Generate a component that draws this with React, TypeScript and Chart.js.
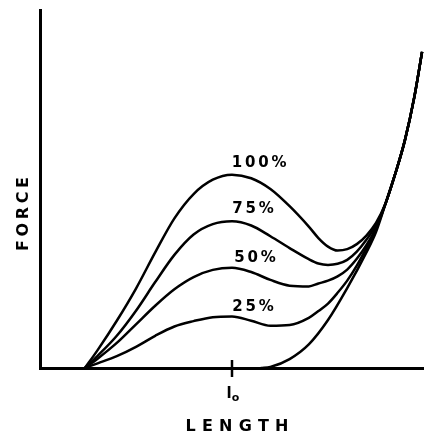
import React, { useEffect, useRef } from "react";
import { Chart, registerables } from "chart.js";

Chart.register(...registerables);

// Length in units of optimal length l0 (l0 = 1), force in % of axis height
const activeLength = [0.234, 0.3, 0.4, 0.5, 0.6, 0.7, 0.8, 0.9, 1.0, 1.1, 1.2, 1.3, 1.4, 1.45, 1.5, 1.55, 1.6, 1.65, 1.7, 1.75];
const force100 = [0, 5.0, 13.2, 22.2, 32.3, 41.8, 48.6, 52.6, 54.0, 53.0, 50.0, 45.2, 39.5, 36.3, 33.9, 32.8, 33.2, 34.6, 37.0, 40.5];
const force75 = [0, 3.4, 9.0, 16.0, 24.0, 31.6, 37.3, 40.2, 41.0, 39.8, 36.8, 33.5, 30.4, 29.2, 28.8, 29.1, 30.2, 32.5, 35.8, 39.9];
const force50 = [0, 2.6, 7.0, 12.2, 17.4, 22.0, 25.4, 27.4, 28.0, 26.8, 24.6, 23.0, 22.8, 23.6, 24.4, 25.6, 27.5, 30.5, 34.3, 39.1];
const force25 = [0, 1.3, 3.3, 5.9, 9.0, 11.6, 13.1, 14.2, 14.4, 13.2, 11.8, 12.0, 14.0, 15.9, 18.0, 21.0, 24.4, 28.6, 33.5, 38.8];

const passiveLength = [1.15, 1.2, 1.3, 1.4, 1.5, 1.6, 1.7, 1.75];
const passiveForce = [0, 0.3, 2.5, 6.6, 13.4, 22.3, 32.3, 38.0];

// shared steep rising branch where all curves merge
const commonLength = [1.8, 1.85, 1.9, 1.95, 1.99];
const commonForce = [46.0, 54.2, 63.5, 75.8, 88.3];

const curveLabels = ["100%", "75%", "50%", "25%"];
const labelX = [1.141, 1.109, 1.12, 1.109];
const labelY = [57.3, 44.4, 30.7, 17.0];

const xTitle = "LENGTH";
const yTitle = "FORCE";
const optimumValue = 1;

const FONT = "'DejaVu Sans', 'Liberation Sans', sans-serif";

function pts(xs: number[], ys: number[]) {
  const a = xs.map((x, i) => ({ x, y: ys[i] }));
  return a.concat(commonLength.map((x, i) => ({ x, y: commonForce[i] })));
}

function drawSpaced(ctx: CanvasRenderingContext2D, text: string, cx: number, cy: number, spacing: number) {
  const chars = text.split("");
  const widths = chars.map((c) => ctx.measureText(c).width);
  const total = widths.reduce((s, w) => s + w, 0) + spacing * (chars.length - 1);
  let x = cx - total / 2;
  ctx.textAlign = "left";
  ctx.textBaseline = "middle";
  chars.forEach((c, i) => {
    ctx.fillText(c, x, cy);
    x += widths[i] + spacing;
  });
}

const annotate = {
  id: "annotate",
  afterDraw(chart: any) {
    const ctx: CanvasRenderingContext2D = chart.ctx;
    const xs = chart.scales.x;
    const ys = chart.scales.y;
    const area = chart.chartArea;
    ctx.save();
    ctx.fillStyle = "#000";
    ctx.strokeStyle = "#000";

    // curve labels
    ctx.font = `bold 15px ${FONT}`;
    curveLabels.forEach((t, i) => {
      drawSpaced(ctx, t, xs.getPixelForValue(labelX[i]), ys.getPixelForValue(labelY[i]), 2.8);
    });

    // l0 tick
    const px = xs.getPixelForValue(optimumValue);
    ctx.lineWidth = 2.5;
    ctx.beginPath();
    ctx.moveTo(px, area.bottom - 8);
    ctx.lineTo(px, area.bottom + 9);
    ctx.stroke();

    // l0 label
    ctx.textBaseline = "alphabetic";
    ctx.textAlign = "center";
    ctx.font = `bold 15px ${FONT}`;
    ctx.fillText("l", px - 3, area.bottom + 30);
    ctx.font = `bold 11px ${FONT}`;
    ctx.fillText("o", px + 3.5, area.bottom + 33);

    // x title
    ctx.font = `bold 16px ${FONT}`;
    drawSpaced(ctx, xTitle, px + 5, area.bottom + 59, 6.2);

    // y title
    ctx.save();
    ctx.translate(area.left - 16, (area.top + area.bottom) / 2 + 25);
    ctx.rotate(-Math.PI / 2);
    ctx.font = `bold 16px ${FONT}`;
    drawSpaced(ctx, yTitle, 0, 0, 3.6);
    ctx.restore();

    ctx.restore();
  },
};

export default function App() {
  const ref = useRef<HTMLCanvasElement | null>(null);
  useEffect(() => {
    document.body.style.margin = "0";
    if (!ref.current) return;
    const line = (data: any[]) => ({
      data,
      borderColor: "#000",
      borderWidth: 2.5,
      pointRadius: 0,
      fill: false,
      cubicInterpolationMode: "monotone" as const,
    });
    const chart = new Chart(ref.current, {
      type: "line",
      data: {
        datasets: [
          line(pts(activeLength, force100)),
          line(pts(activeLength, force75)),
          line(pts(activeLength, force50)),
          line(pts(activeLength, force25)),
          line(pts(passiveLength, passiveForce)),
        ],
      },
      options: {
        responsive: false,
        animation: false,
        devicePixelRatio: 1,
        layout: { padding: { left: 40, top: 10, right: 0, bottom: 70 } },
        plugins: { legend: { display: false }, tooltip: { enabled: false } },
        scales: {
          x: {
            type: "linear",
            min: 0,
            max: 2,
            ticks: { display: false },
            grid: { display: false, drawTicks: false },
            border: { display: true, color: "#000", width: 3 },
          },
          y: {
            type: "linear",
            min: 0,
            max: 100,
            ticks: { display: false },
            grid: { display: false, drawTicks: false },
            border: { display: true, color: "#000", width: 3 },
          },
        },
      },
      plugins: [annotate],
    });
    return () => chart.destroy();
  }, []);
  return (
    <div style={{ width: 424, height: 438, background: "#fff" }}>
      <canvas ref={ref} width={424} height={438} style={{ display: "block" }} />
    </div>
  );
}
